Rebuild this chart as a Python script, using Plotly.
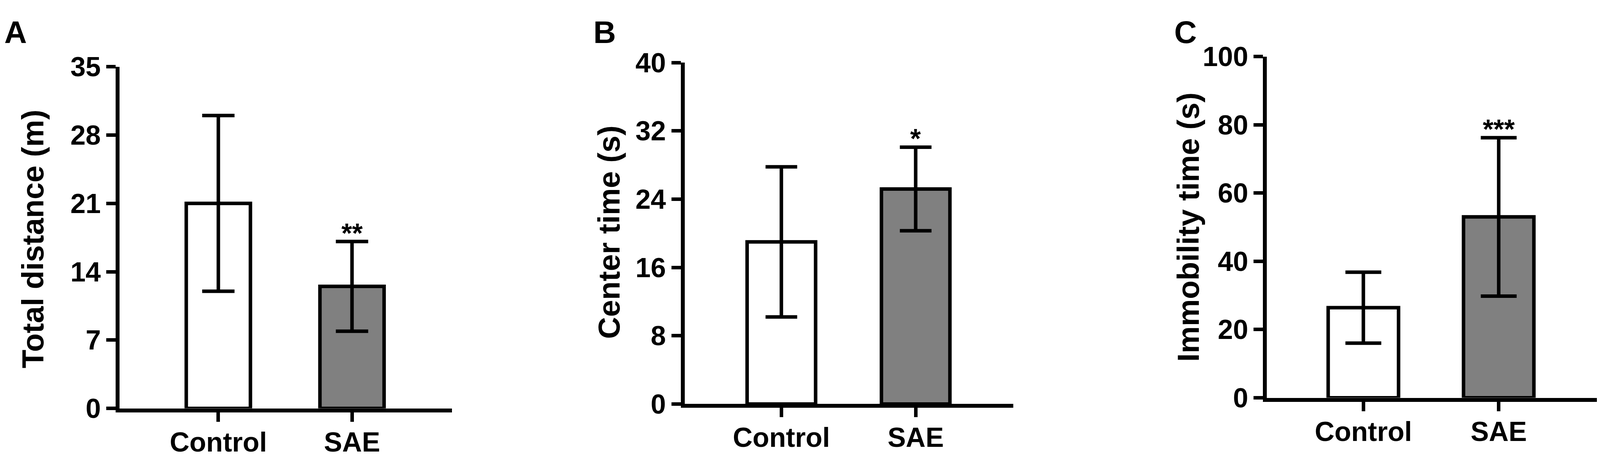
import plotly.graph_objects as go

# ---------------- data ----------------
categories = ["Control", "SAE"]

distance_mean = [21.0, 12.5]
distance_err = [9.0, 4.6]
distance_sig = ["", "**"]

center_mean = [19.0, 25.2]
center_err = [8.8, 4.9]
center_sig = ["", "*"]

immob_mean = [26.4, 53.0]
immob_err = [10.4, 23.2]
immob_sig = ["", "***"]

y_ticks_a = [0, 7, 14, 21, 28, 35]
y_ticks_b = [0, 8, 16, 24, 32, 40]
y_ticks_c = [0, 20, 40, 60, 80, 100]

titles = ["Total distance (m)", "Center time (s)", "Immobility time (s)"]
letters = ["A", "B", "C"]

# ---------------- layout helpers ----------------
REF_W, H = 4550, 1192          # reference picture size
W = 4096                        # the browser viewport is capped at 4096 px wide
SX = W / REF_W                  # horizontal compression so everything fits
FONT = "Liberation Sans, Arial, Helvetica, sans-serif"
bar_colors = ["#ffffff", "#808080"]


def fx(p):
    return p / REF_W


def fy(p):
    return 1 - p / H


panels = [
    dict(mean=distance_mean, err=distance_err, sig=distance_sig, ticks=y_ticks_a,
         xdom=(340, 1285), ydom=(141, 1077), xr=(-0.739, 1.747), bw=0.48, cap=46,
         lx=10, tx=94, ty=613),
    dict(mean=center_mean, err=center_err, sig=center_sig, ticks=y_ticks_b,
         xdom=(1947, 2882), ydom=(130, 1065), xr=(-0.72, 1.728), bw=0.51, cap=45,
         lx=1685, tx=1731, ty=594),
    dict(mean=immob_mean, err=immob_err, sig=immob_sig, ticks=y_ticks_c,
         xdom=(3603, 4541), ydom=(113, 1048), xr=(-0.712, 1.725), bw=0.52, cap=51,
         lx=3337, tx=3379, ty=580),
]

fig = go.Figure()
annotations = []

for i, p in enumerate(panels):
    n = i + 1
    xa = "x" if n == 1 else f"x{n}"
    ya = "y" if n == 1 else f"y{n}"
    fig.add_trace(go.Bar(
        x=categories, y=p["mean"], xaxis=xa, yaxis=ya,
        width=p["bw"],
        marker=dict(color=bar_colors, line=dict(color="black", width=9)),
        error_y=dict(type="data", array=p["err"], visible=True,
                     color="black", thickness=9, width=p["cap"] * SX),
        showlegend=False,
    ))
    xkey = "xaxis" if n == 1 else f"xaxis{n}"
    ykey = "yaxis" if n == 1 else f"yaxis{n}"
    fig.update_layout(**{
        xkey: dict(
            domain=[fx(p["xdom"][0]), fx(p["xdom"][1])],
            anchor=ya, type="category", range=list(p["xr"]),
            showline=True, linecolor="black", linewidth=10,
            ticks="outside", ticklen=24, tickwidth=9, tickcolor="black",
            ticklabelstandoff=-8,
            showgrid=False, zeroline=False,
            tickfont=dict(family=FONT, size=70, color="black", weight="bold"),
        ),
        ykey: dict(
            domain=[fy(p["ydom"][1]), fy(p["ydom"][0])],
            anchor=xa, range=[p["ticks"][0], p["ticks"][-1]],
            tickvals=p["ticks"], ticktext=[str(t) for t in p["ticks"]],
            showline=True, linecolor="black", linewidth=10,
            ticks="outside", ticklen=24, tickwidth=9, tickcolor="black",
            showgrid=False, zeroline=False,
            tickfont=dict(family=FONT, size=70, color="black", weight="bold"),
        ),
    })
    for c, m, e, s in zip(categories, p["mean"], p["err"], p["sig"]):
        if s:
            annotations.append(dict(
                x=c, y=m + e, xref=xa, yref=ya, text=s, showarrow=False,
                xanchor="center", yanchor="bottom", yshift=-20,
                font=dict(family=FONT, size=70, color="black", weight="bold"),
            ))
    annotations.append(dict(
        x=fx(p["tx"]), y=fy(p["ty"]), xref="paper", yref="paper",
        text=titles[i], textangle=-90, showarrow=False,
        xanchor="center", yanchor="middle",
        font=dict(family=FONT, size=78, color="black", weight="bold"),
    ))
    annotations.append(dict(
        x=fx(p["lx"]), y=1.0, xref="paper", yref="paper", yshift=3,
        text=letters[i], showarrow=False, xanchor="left", yanchor="top",
        font=dict(family=FONT, size=80, color="black", weight="bold"),
    ))

fig.update_layout(
    width=W, height=H,
    margin=dict(l=0, r=0, t=0, b=0),
    paper_bgcolor="white", plot_bgcolor="white",
    annotations=annotations,
)

post = "document.body.style.margin='0px'; document.body.style.overflow='hidden';"
fig.write_html("out.html", post_script=post, config={"displayModeBar": False})
